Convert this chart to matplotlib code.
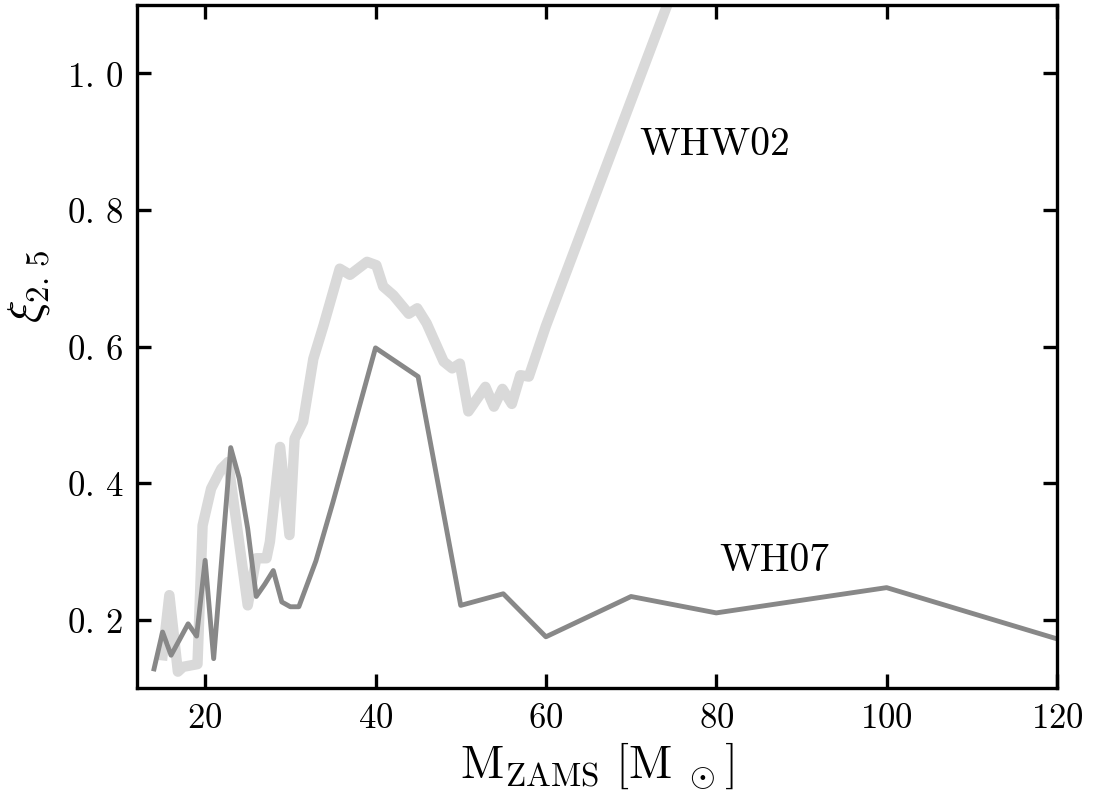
import numpy as np
import matplotlib
matplotlib.use('Agg')
import matplotlib.pyplot as plt
from matplotlib.ticker import FixedLocator, FixedFormatter

plt.rcParams['mathtext.fontset'] = 'cm'
plt.rcParams['font.family'] = 'serif'
plt.rcParams['font.serif'] = ['cmr10', 'DejaVu Serif']
plt.rcParams['axes.unicode_minus'] = False

# compactness xi_2.5 vs ZAMS mass, WHW02 progenitors
whw02_m = [15.0, 15.8, 16.8, 17.4, 19.1, 19.7, 20.7, 21.9, 22.7, 25.0, 26.0, 27.2,
           27.6, 28.8, 29.9, 30.5, 31.5, 32.7, 33.9, 35.8, 37.0, 39.0, 40.1, 40.9,
           42.1, 43.9, 44.9, 46.0, 48.0, 49.0, 49.9, 50.9, 52.9, 53.9, 54.9, 56.0,
           57.0, 58.0, 60.0, 65.0, 70.0, 75.0]
whw02_xi = [0.148, 0.236, 0.124, 0.131, 0.135, 0.338, 0.392, 0.421, 0.431, 0.221,
            0.290, 0.290, 0.314, 0.453, 0.324, 0.465, 0.490, 0.582, 0.631, 0.714,
            0.705, 0.724, 0.719, 0.688, 0.675, 0.648, 0.656, 0.634, 0.578, 0.568,
            0.575, 0.505, 0.541, 0.512, 0.538, 0.516, 0.558, 0.556, 0.630, 0.795,
            0.960, 1.125]

# WH07 progenitors
wh07_m = [14, 15, 16, 17, 18, 19, 20, 21, 23, 24, 25, 26, 27, 28, 29, 30, 31, 33,
          35, 40, 45, 50, 55, 60, 70, 80, 100, 120]
wh07_xi = [0.128, 0.182, 0.148, 0.171, 0.194, 0.176, 0.287, 0.143, 0.452, 0.407,
           0.333, 0.234, 0.252, 0.272, 0.226, 0.219, 0.219, 0.286, 0.372, 0.598,
           0.556, 0.221, 0.238, 0.175, 0.234, 0.210, 0.247, 0.172]

xticks = [20, 40, 60, 80, 100, 120]
yticks = [0.2, 0.4, 0.6, 0.8, 1.0]
ytick_labels = [r'$0.\,2$', r'$0.\,4$', r'$0.\,6$', r'$0.\,8$', r'$1.\,0$']

fig = plt.figure(figsize=(10.96, 8.04), dpi=100)
ax = fig.add_axes([0.125, 0.143, 0.8394, 0.8495])

ax.plot(whw02_m, whw02_xi, color='#d9d9d9', lw=7.5)
ax.plot(wh07_m, wh07_xi, color='#888888', lw=3.5)

ax.text(71.0, 0.897, 'WHW02', fontsize=28.5, va='center', ha='left')
ax.text(80.3, 0.288, 'WH07', fontsize=28.5, va='center', ha='left')

ax.set_xlim(12, 120)
ax.set_ylim(0.1, 1.1)

ax.xaxis.set_major_locator(FixedLocator(xticks))
ax.xaxis.set_major_formatter(FixedFormatter([r'$%d$' % t for t in xticks]))
ax.yaxis.set_major_locator(FixedLocator(yticks))
ax.yaxis.set_major_formatter(FixedFormatter(ytick_labels))

ax.tick_params(which='major', direction='in', top=True, right=True,
               length=10, width=2.4, labelsize=25, pad=10)
for sp in ax.spines.values():
    sp.set_linewidth(2.4)

ax.set_xlabel(r'$\mathrm{M}_{\rm ZAMS}\ [\mathrm{M}_{\ \odot}]$', fontsize=34)
ax.set_ylabel(r'$\xi_{2.\,5}$', fontsize=34)
ax.yaxis.set_label_coords(-0.092, 0.59)

fig.savefig('out.png', dpi=100)
